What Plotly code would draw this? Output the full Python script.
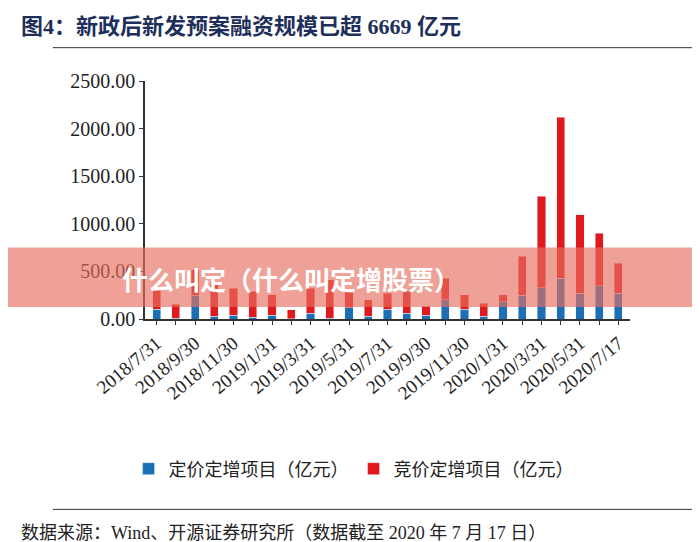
import plotly.graph_objects as go

months = ["2018/7/31", "2018/8/31", "2018/9/30", "2018/10/31", "2018/11/30", "2018/12/31",
          "2019/1/31", "2019/2/28", "2019/3/31", "2019/4/30", "2019/5/31", "2019/6/30",
          "2019/7/31", "2019/8/31", "2019/9/30", "2019/10/31", "2019/11/30", "2019/12/31",
          "2020/1/31", "2020/2/29", "2020/3/31", "2020/4/30", "2020/5/31", "2020/6/30",
          "2020/7/17"]
pricing = [100, 10, 250, 30, 40, 20, 40, 5, 60, 10, 120, 30, 100, 60, 40, 200, 100, 30,
           180, 250, 330, 430, 270, 350, 270]
totals = [308, 157, 520, 378, 325, 290, 255, 98, 325, 413, 308, 203, 273, 290, 133, 430,
          255, 168, 255, 657, 1287, 2119, 1094, 902, 587]
bidding = [t - p for t, p in zip(totals, pricing)]

blue = "#1c6fb5"
red = "#e2191c"
serif = "Liberation Serif, Noto Sans CJK SC"

fig = go.Figure()
fig.add_trace(go.Bar(x=months, y=pricing, name="定价定增项目（亿元）", marker_color=blue, width=0.42))
fig.add_trace(go.Bar(x=months, y=bidding, name="竞价定增项目（亿元）", marker_color=red, width=0.42))

ticktext = [m if i % 2 == 0 else "" for i, m in enumerate(months)]

# plot area: y=73..311 px, x=137..622 px
fig.update_layout(
    barmode="stack",
    width=700, height=542,
    margin=dict(l=137, r=78, t=73, b=231, autoexpand=False),
    paper_bgcolor="white", plot_bgcolor="white",
    font=dict(family=serif, color="#222"),
    showlegend=True,
    legend=dict(orientation="h", traceorder="normal", x=0.43, xanchor="center",
                y=-0.63, yanchor="middle", font=dict(size=18, family="Noto Sans CJK SC"),
                itemwidth=30),
    xaxis=dict(type="category", tickmode="array", tickvals=months, ticktext=ticktext,
               tickangle=-40, tickfont=dict(size=19, family=serif), ticks="outside",
               ticklen=4, tickcolor="#333", showline=True, linecolor="#333", linewidth=1.5,
               range=[-0.6, 24.6]),
    yaxis=dict(range=[0, 2500], dtick=500, tickformat=".2f", tickfont=dict(size=20, family=serif),
               showgrid=False, showline=True, linecolor="#333", linewidth=1.5, ticks="outside",
               ticklen=4, tickcolor="#333"),
    shapes=[
        dict(type="line", xref="paper", yref="paper", x0=-0.19, x1=1.14, y0=1.14, y1=1.14,
             line=dict(color="#333", width=1)),
        dict(type="line", xref="paper", yref="paper", x0=-0.19, x1=1.14, y0=-0.8, y1=-0.8,
             line=dict(color="#333", width=1)),
        dict(type="rect", xref="paper", yref="paper", x0=-0.3, x1=1.2, y0=0.05, y1=0.3,
             fillcolor="rgba(230,110,95,0.65)", line=dict(width=0), layer="above"),
    ],
    annotations=[
        dict(text="<b>图4：新政后新发预案融资规模已超 6669 亿元</b>", xref="paper", yref="paper",
             x=-0.26, y=1.23, xanchor="left", yanchor="middle", showarrow=False,
             font=dict(size=22, color="#1d2f5a", family=serif)),
        dict(text="数据来源：Wind、开源证券研究所（数据截至 2020 年 7 月 17 日）", xref="paper",
             yref="paper", x=-0.26, y=-0.9, xanchor="left", yanchor="middle", showarrow=False,
             font=dict(size=18, color="#222", family=serif)),
        dict(text="<b>什么叫定（什么叫定增股票）</b>", xref="paper", yref="paper", x=0.3, y=0.17,
             xanchor="center", yanchor="middle", showarrow=False,
             font=dict(size=26, color="white", family="Noto Sans CJK SC")),
    ],
)

fig.write_html("out.html")
